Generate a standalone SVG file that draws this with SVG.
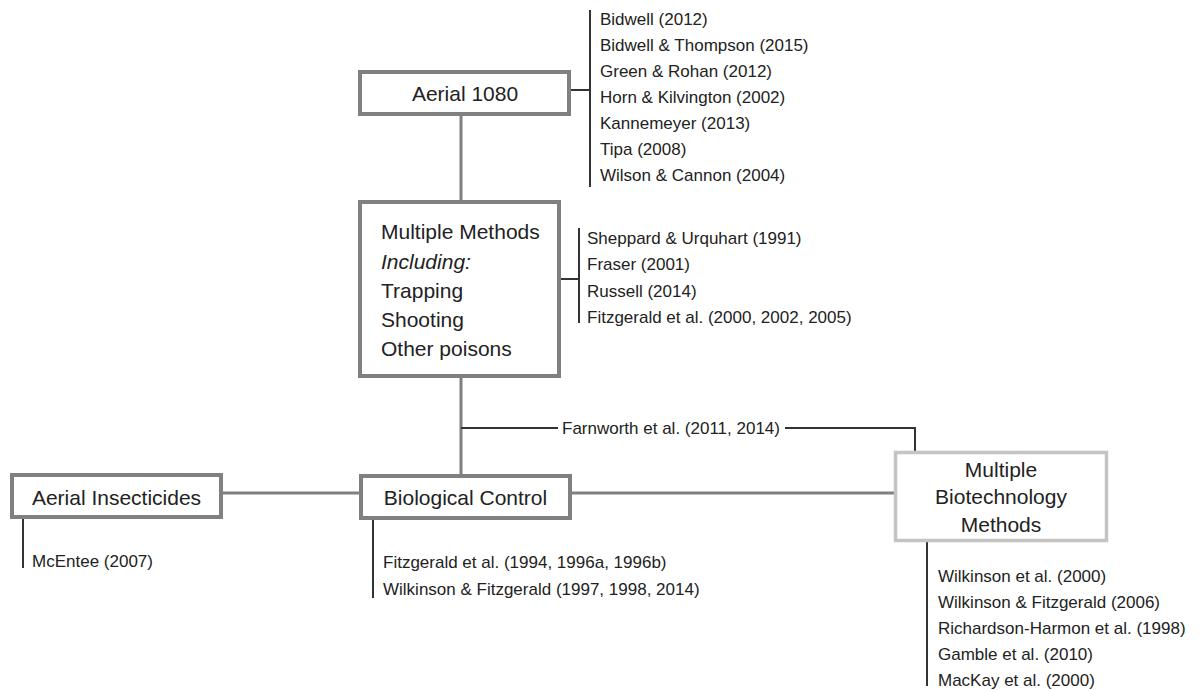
<svg xmlns="http://www.w3.org/2000/svg" width="1202" height="691" viewBox="0 0 1202 691">
<style>
.box{fill:#fff;stroke:#808080;stroke-width:4}
.box2{fill:#fff;stroke:#c4c4c4;stroke-width:3.5}
.bt{font-family:"Liberation Sans",Arial,sans-serif;font-size:21px;fill:#222}
.st{font-family:"Liberation Sans",Arial,sans-serif;font-size:17px;fill:#222}
.conn{stroke:#808080;stroke-width:3;fill:none}
.br{stroke:#333;stroke-width:2;fill:none}
</style>
<rect width="1202" height="691" fill="#fff"/>
<g id="connectors">
<path class="conn" d="M461 116V202M461 376V476M221 493H361M570 493H895"/>
<path class="br" d="M571 90H590M590 10V187"/>
<path class="br" d="M559 279H579M579 228V323"/>
<path class="br" d="M461 428H558M785 428H915V452"/>
<path class="br" d="M23 517V568"/>
<path class="br" d="M373 518V598"/>
<path class="br" d="M927 541V686"/>
</g>
<g id="aerial1080">
<rect class="box" x="360" y="72" width="209" height="42"/>
<text class="bt" x="465" y="101" text-anchor="middle">Aerial 1080</text>
</g>
<g id="refs1080" class="st">
<text x="600" y="25">Bidwell (2012)</text>
<text x="600" y="51">Bidwell &amp; Thompson (2015)</text>
<text x="600" y="77">Green &amp; Rohan (2012)</text>
<text x="600" y="103">Horn &amp; Kilvington (2002)</text>
<text x="600" y="129">Kannemeyer (2013)</text>
<text x="600" y="155">Tipa (2008)</text>
<text x="600" y="181">Wilson &amp; Cannon (2004)</text>
</g>
<g id="multiple-methods">
<rect class="box" x="360" y="202" width="199" height="174"/>
<text class="bt" x="381" y="239">Multiple Methods</text>
<text class="bt" x="381" y="269" font-style="italic">Including:</text>
<text class="bt" x="381" y="298">Trapping</text>
<text class="bt" x="381" y="327">Shooting</text>
<text class="bt" x="381" y="356">Other poisons</text>
</g>
<g id="refsMM" class="st">
<text x="587" y="244">Sheppard &amp; Urquhart (1991)</text>
<text x="587" y="270">Fraser (2001)</text>
<text x="587" y="297">Russell (2014)</text>
<text x="587" y="323">Fitzgerald et al. (2000, 2002, 2005)</text>
</g>
<g id="farnworth">
<text class="st" x="671" y="434" text-anchor="middle">Farnworth et al. (2011, 2014)</text>
</g>
<g id="aerial-insecticides">
<rect class="box" x="12" y="475" width="209" height="42"/>
<text class="bt" x="116.5" y="505" text-anchor="middle">Aerial Insecticides</text>
</g>
<g id="refsAI">
<text class="st" x="32" y="567">McEntee (2007)</text>
</g>
<g id="biological-control">
<rect class="box" x="361" y="476" width="209" height="42"/>
<text class="bt" x="465.5" y="505" text-anchor="middle">Biological Control</text>
</g>
<g id="refsBio" class="st">
<text x="383" y="568">Fitzgerald et al. (1994, 1996a, 1996b)</text>
<text x="383" y="595">Wilkinson &amp; Fitzgerald (1997, 1998, 2014)</text>
</g>
<g id="biotech">
<rect class="box2" x="895.5" y="452.5" width="211" height="88"/>
<text class="bt" x="1001" y="477" text-anchor="middle">Multiple</text>
<text class="bt" x="1001" y="504" text-anchor="middle">Biotechnology</text>
<text class="bt" x="1001" y="532" text-anchor="middle">Methods</text>
</g>
<g id="refsBiotech" class="st">
<text x="938" y="582">Wilkinson et al. (2000)</text>
<text x="938" y="608">Wilkinson &amp; Fitzgerald (2006)</text>
<text x="938" y="634">Richardson-Harmon et al. (1998)</text>
<text x="938" y="660">Gamble et al. (2010)</text>
<text x="938" y="686">MacKay et al. (2000)</text>
</g>
</svg>
